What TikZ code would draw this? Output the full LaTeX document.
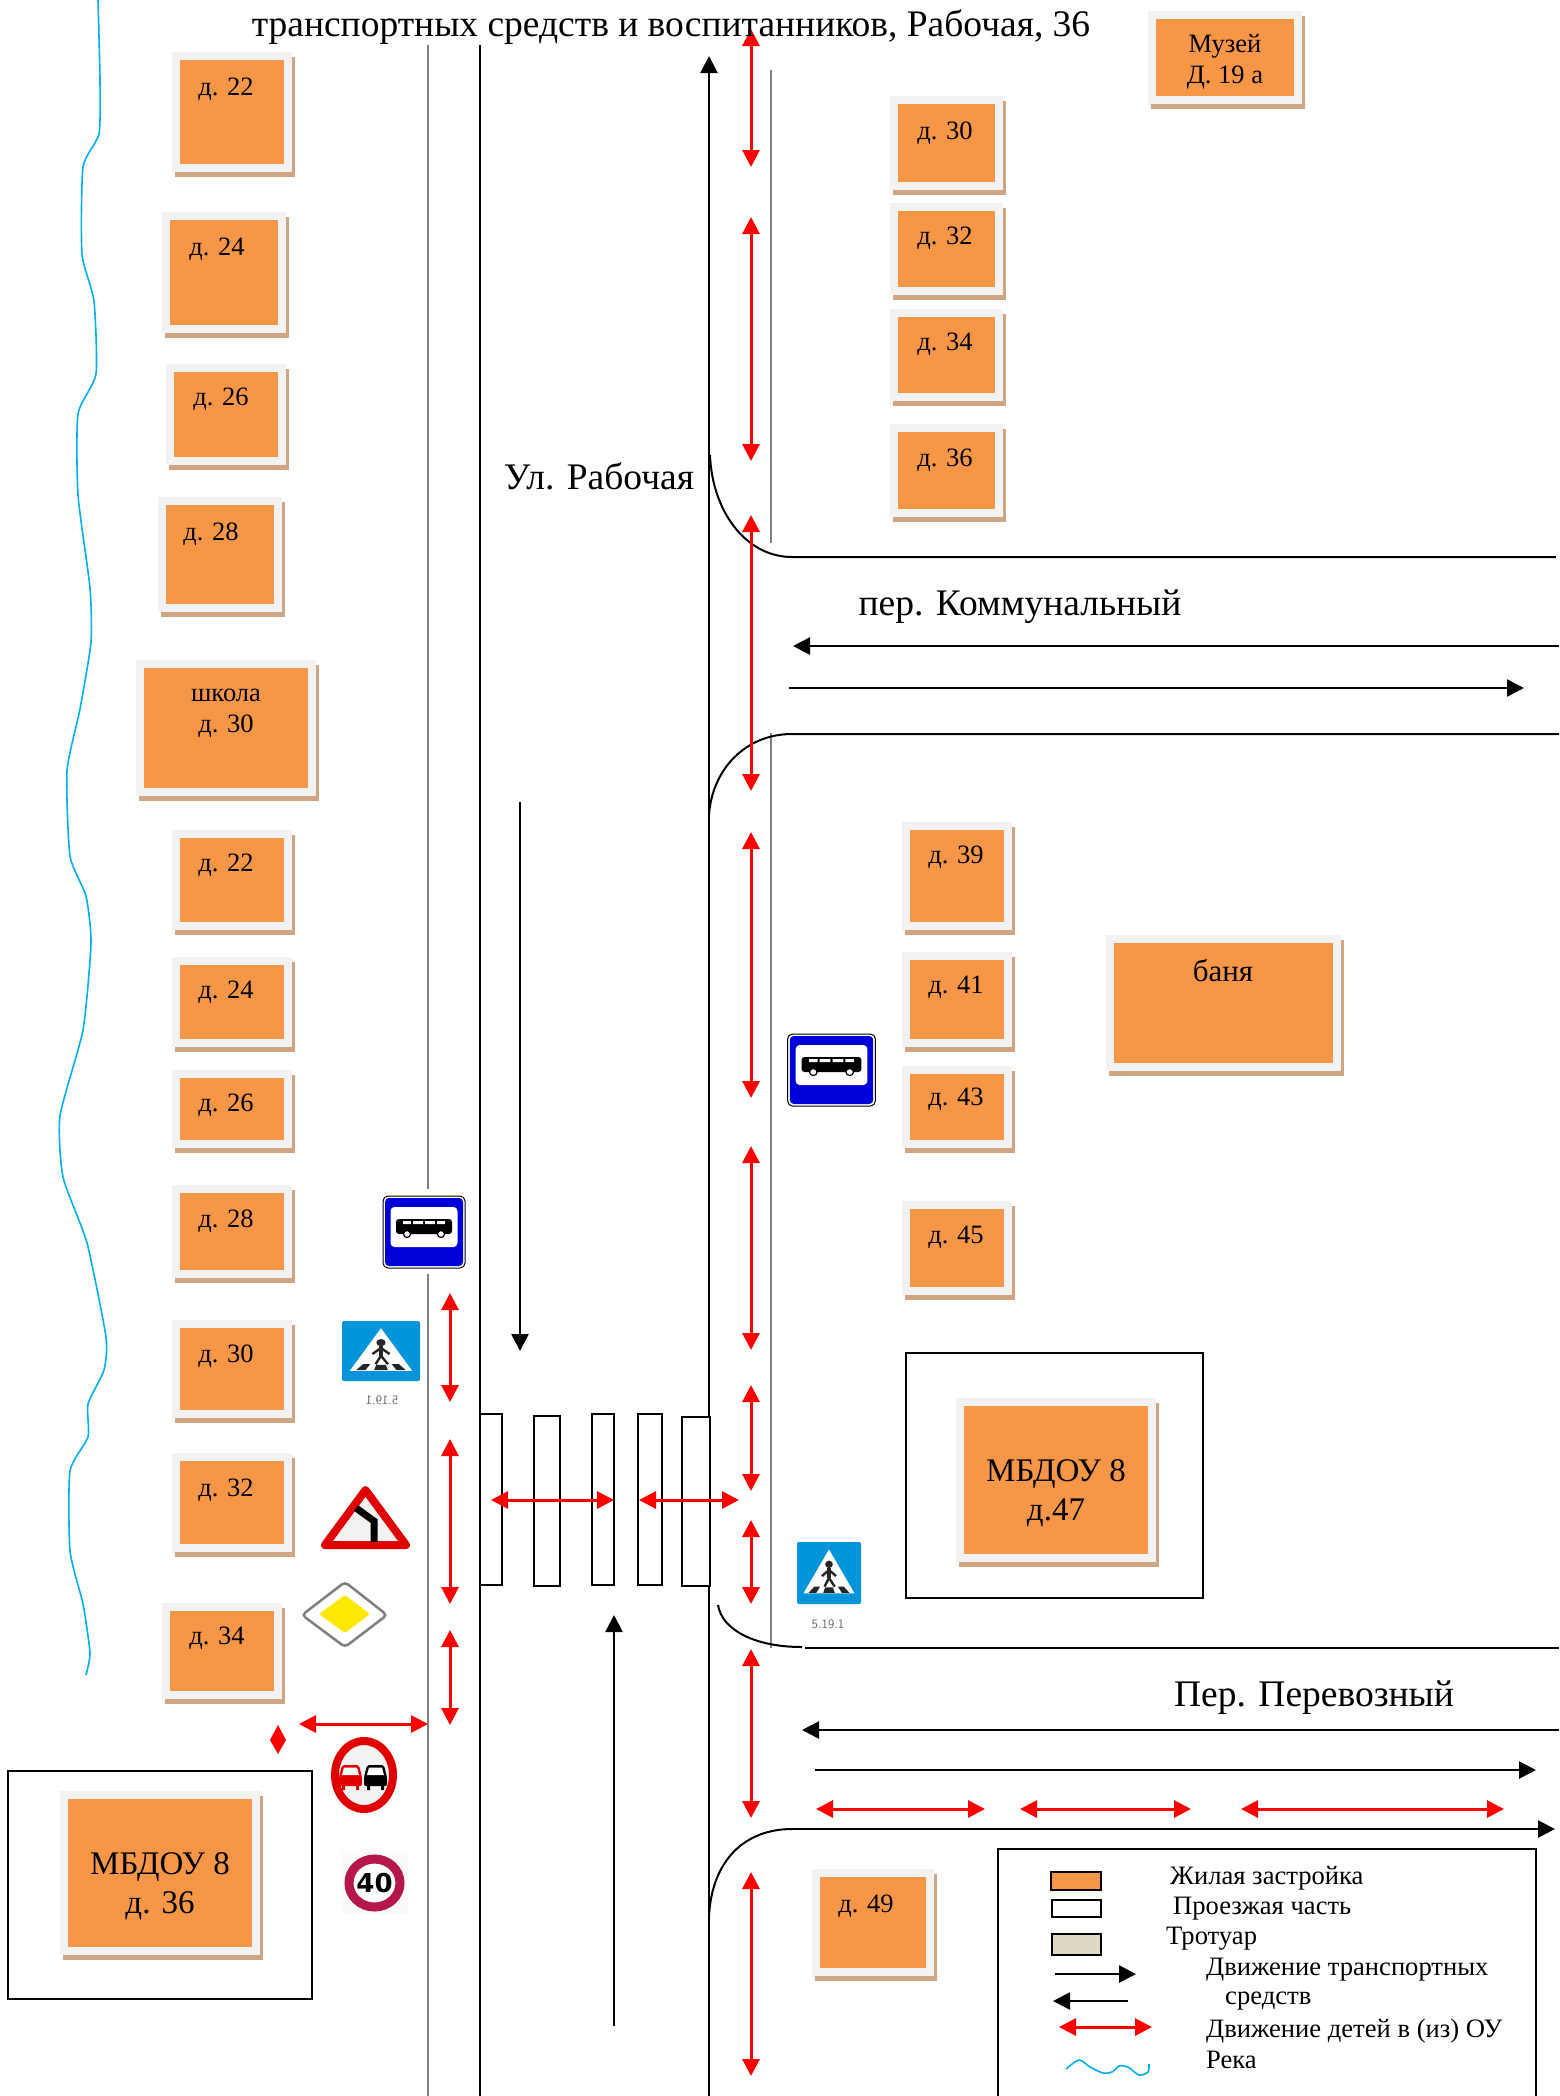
\documentclass[tikz,border=0pt]{standalone}
\usepackage{fontspec}
\setmainfont{Liberation Serif}
\newfontfamily\signfont{DejaVu Sans}
\usetikzlibrary{arrows.meta}
\definecolor{orng}{HTML}{F79646}
\definecolor{frm}{HTML}{F2F2F2}
\definecolor{shd}{HTML}{CFA583}
\definecolor{riv}{HTML}{00B0F0}
\definecolor{sblue}{HTML}{0095DA}
\definecolor{bblue}{HTML}{0000D8}
\definecolor{sred}{HTML}{E00000}
\definecolor{wine}{HTML}{B5174A}
\tikzset{
  x=1pt,y=-1pt,
  lab/.style={inner sep=0pt,align=center,yshift=-3pt,font=\fontsize{26.5}{31}\selectfont},
  labb/.style={inner sep=0pt,align=center,font=\fontsize{31}{36}\selectfont},
  big/.style={inner sep=0pt,align=center,yshift=-3pt,font=\fontsize{33}{39}\selectfont},
  street/.style={inner sep=0pt,align=center,font=\fontsize{37.5}{44}\selectfont},
  leg/.style={inner sep=0pt,anchor=west,font=\fontsize{26.6}{30}\selectfont},
  greyl/.style={draw=black!50,line width=2pt},
  road/.style={draw=black,line width=2.6pt},
  edge/.style={draw=black,line width=2pt},
  veh/.style={draw=black,line width=2.6pt,-{Triangle[length=17pt,width=17pt]}},
  kids/.style={draw=red,line width=3pt,{Triangle[length=17pt,width=17pt]}-{Triangle[length=17pt,width=17pt]}},
  walk/.style={draw=black,line width=2pt,fill=white},
  river/.style={draw=riv,line width=1.6pt}
}
\newcommand{\house}[9]{%
  \fill[shd] (#1-5,#2-3) rectangle (#3+11,#4+13);
  \fill[frm] (#1-8,#2-8) rectangle (#3+8,#4+8);
  \fill[orng] (#1,#2) rectangle (#3,#4);
  \node[#8] (#5) at (#6,#7) {#9};
}
\newcommand{\bussign}[4]{%
  \begin{scope}[shift={(#1,#2)},xscale=#4]
    \node[draw=black,line width=1pt,fill=white,rounded corners=5pt,minimum width=82pt,minimum height=72pt,inner sep=0pt,transform shape] (#3) at (0,0) {};
    \fill[bblue,rounded corners=4pt] (-39,-34) rectangle (39,34);
    \fill[white,rounded corners=4pt] (-33.500,-25) rectangle (33.500,15);
    \fill[black,rounded corners=3pt] (-28,-13) rectangle (28,2);
    \fill[white] (-21,-11) rectangle (-13,-8) (-11,-11) rectangle (-1,-8) (1,-11) rectangle (11,-8) (13,-11) rectangle (21,-8);
    \draw[black,line width=1.2pt,fill=white] (-17,2) circle (3.5) (17,2) circle (3.5);
  \end{scope}
}
\newcommand{\pedsign}[5]{%
  \begin{scope}[shift={(#1,#2)},x=#3pt,y=-#4pt]
    \node[fill=sblue,rounded corners=2pt,minimum width=#3pt,minimum height=#4pt,inner sep=0pt] (#5) at (.5,.5) {};
    \fill[white] (.5,.12) -- (.9,.83) -- (.1,.83) -- cycle;
    \fill[black!85] (.5,.36) circle (.06);
    \draw[black!85,line width=4.500pt] (.5,.42) -- (.5,.58);
    \draw[black!85,line width=2.4pt] (.5,.58) -- (.43,.72) (.5,.58) -- (.59,.72) (.5,.45) -- (.39,.55) (.5,.45) -- (.61,.55);
    \fill[black!85] (.18,.82) -- (.27,.72) -- (.36,.72) -- (.3,.82) -- cycle
      (.41,.82) -- (.44,.73) -- (.56,.73) -- (.59,.82) -- cycle
      (.7,.82) -- (.64,.72) -- (.73,.72) -- (.82,.82) -- cycle;
  \end{scope}
}
\newcommand{\carsign}[2]{%
  \begin{scope}[shift={(#1,1765)}]
    \fill[#2,rounded corners=2pt] (0,12) -- (3,0) -- (20,0) -- (23,12) -- (23,21) -- (0,21) -- cycle;
    \fill[white] (5,2.500) -- (18,2.500) -- (20,10) -- (3,10) -- cycle;
    \fill[#2] (3,20) rectangle (6,25) (17,20) rectangle (20,25);
  \end{scope}
}
\begin{document}
\begin{tikzpicture}
\path[use as bounding box,clip] (0,0) rectangle (1559,2096);
\fill[white] (0,0) rectangle (1559,2096);

% river
\draw[river,line join=round] plot[smooth,tension=.35] coordinates {(98,0) (100,80) (99,134) (83,167) (82,254) (94,301) (96,374) (78,414) (78,495) (90,588) (91,642) (80,709) (67,771) (70,856) (86,896) (91,943) (83,1030) (60,1116) (63,1177) (87,1243) (106,1337) (104,1370) (88,1404) (88,1437) (70,1471) (70,1551) (83,1604) (90,1653) (86,1675)};

% school boxes
\draw[line width=2pt] (8,1771) rectangle (312,1999);
\draw[line width=2pt] (906,1353) rectangle (1203,1598);

% houses, left column
\house{180}{60}{284}{164}{hA}{226}{86}{lab}{д. 22}
\house{170}{220}{278}{325}{hB}{217}{246}{lab}{д. 24}
\house{174}{372}{278}{457}{hC}{221}{396}{lab}{д. 26}
\house{166}{505}{274}{604}{hD}{211}{531}{lab}{д. 28}
\house{144}{668}{308}{788}{hE}{226}{710}{lab}{школа\\д. 30}
\house{180}{838}{284}{922}{hF}{226}{862}{lab}{д. 22}
\house{180}{965}{284}{1039}{hG}{226}{989}{lab}{д. 24}
\house{180}{1078}{284}{1140}{hH}{226}{1102}{lab}{д. 26}
\house{180}{1193}{284}{1270}{hI}{226}{1218}{lab}{д. 28}
\house{180}{1328}{284}{1410}{hJ}{226}{1353}{lab}{д. 30}
\house{180}{1461}{284}{1544}{hK}{226}{1487}{lab}{д. 32}
\house{170}{1611}{274}{1691}{hL}{217}{1635}{lab}{д. 34}
\house{68}{1799}{252}{1947}{hM}{160}{1883}{big}{МБДОУ 8\\д. 36}
% houses, right column
\house{898}{104}{995}{182}{hN}{945}{130}{lab}{д. 30}
\house{898}{211}{995}{287}{hO}{945}{235}{lab}{д. 32}
\house{898}{317}{995}{393}{hP}{945}{341}{lab}{д. 34}
\house{898}{432}{995}{509}{hQ}{945}{457}{lab}{д. 36}
\house{1156}{19}{1294}{96}{hR}{1225}{59}{lab}{Музей\\Д. 19 а}
\house{910}{830}{1004}{922}{hS}{956}{854}{lab}{д. 39}
\house{910}{960}{1004}{1039}{hT}{956}{984}{lab}{д. 41}
\house{910}{1074}{1004}{1140}{hU}{956}{1096}{lab}{д. 43}
\house{910}{1209}{1004}{1287}{hV}{956}{1234}{lab}{д. 45}
\house{1114}{943}{1333}{1063}{hW}{1223}{971}{labb}{баня}
\house{964}{1406}{1148}{1554}{hX}{1056}{1490}{big}{МБДОУ 8\\д.47}
\house{820}{1877}{926}{1968}{hY}{866}{1903}{lab}{д. 49}

% road lines
\draw[greyl] (428,45) -- (428,1189) (428,1274) -- (428,2096);
\draw[greyl] (771,70) -- (771,543) (771,733) -- (771,1648);
\draw[road] (480,45) -- (480,2096);
\draw[road] (709,2096) -- (709,1586);
\draw[road] (709,1417) -- (709,700);
\draw[veh] (709,700) -- (709,56);
% side-street kerbs
\draw[edge] (710,455) .. controls (712,510) and (745,557) .. (792,557) -- (1556,557);
\draw[edge] (709,815) .. controls (712,770) and (745,734) .. (792,734) -- (1559,734);
\draw[edge] (718,1605) .. controls (722,1630) and (755,1647) .. (802,1647);
\draw[edge] (805,1648) -- (1559,1648);
\draw[edge] (709,1916) .. controls (712,1860) and (745,1829) .. (792,1829);
\draw[veh] (792,1829) -- (1555,1829);

% vehicle arrows
\draw[veh] (520,802) -- (520,1351);
\draw[veh] (614,2026) -- (614,1615);
\draw[veh] (1559,646) -- (793,646);
\draw[veh] (789,688) -- (1524,688);
\draw[veh] (1559,1730) -- (802,1730);
\draw[veh] (815,1770) -- (1536,1770);

% crossing
\draw[walk] (480,1414) rectangle (502,1585);
\draw[walk] (534,1416) rectangle (560,1586);
\draw[walk] (592,1414) rectangle (614,1585);
\draw[walk] (638,1414) rectangle (662,1585);
\draw[walk] (682,1417) rectangle (710,1586);

% children routes
\foreach \a/\b in {29/167,217/461,515/791,832/1098,1146/1350,1385/1491,1520/1604,1649/1818,1872/2076}
  \draw[kids] (751,\a) -- (751,\b);
\foreach \a/\b in {1293/1402,1439/1604,1630/1725}
  \draw[kids] (450,\a) -- (450,\b);
\draw[kids] (491,1500) -- (614,1500);
\draw[kids] (639,1500) -- (739,1500);
\draw[kids] (299,1724) -- (428,1724);
\draw[kids] (816,1809) -- (985,1809);
\draw[kids] (1020,1809) -- (1191,1809);
\draw[kids] (1241,1809) -- (1504,1809);
\fill[red] (278,1725) -- (286,1740) -- (278,1754) -- (270,1740) -- cycle;

% street names
\node[street] (title) at (671,27) {транспортных средств и воспитанников, Рабочая, 36};
\node[street] (s1) at (599,476) {Ул. Рабочая};
\node[street] (s2) at (1020,607) {пер. Коммунальный};
\node[street] (s3) at (1314,1698) {Пер. Перевозный};

% signs
\bussign{424}{1232}{busL}{1}
\bussign{831.500}{1070}{busR}{1.07}
\pedsign{342}{1321}{78}{60}{pedL}
\node[inner sep=0pt,text=black!60,font=\sffamily\fontsize{13}{15}\selectfont] (pedLt) at (382,1400) {\scalebox{-1}[1]{5.19.1}};
\pedsign{797}{1542}{64}{62}{pedR}
\node[inner sep=0pt,text=black!60,font=\sffamily\fontsize{13}{15}\selectfont] (pedRt) at (828,1624) {5.19.1};
% bend sign
\draw[draw=sred,line width=8pt,line join=round,fill=frm] (365.500,1490) -- (406,1545) -- (325,1545) -- cycle;
\draw[black,line width=7pt] (356,1508) -- (374,1521) -- (374,1542);
% priority sign
\draw[black!50,line width=2.5pt,fill=white,rounded corners=4pt] (345,1582) -- (387,1615) -- (345,1647) -- (302,1615) -- cycle;
\fill[yellow!90!orange,rounded corners=2pt] (345,1595) -- (370,1614) -- (345,1633) -- (319,1614) -- cycle;
% no overtaking
\draw[sred,line width=8pt,fill=frm] (364,1775) ellipse (29 and 34);
\carsign{339}{sred}
\carsign{364}{black}
% speed limit
\fill[frm!40] (342,1852) rectangle (408,1914);
\draw[draw=wine,line width=9pt,fill=white] (374.500,1883) ellipse (25.500 and 24);
\node[inner sep=0pt,font=\signfont\bfseries\fontsize{26}{30}\selectfont] (speed) at (374.500,1883) {40};

% legend
\draw[line width=1.8pt] (998,2096) -- (998,1849) -- (1536,1849) -- (1536,2096);
\draw[line width=1.6pt,fill=orng] (1051,1872) rectangle (1101,1890);
\draw[line width=1.6pt,fill=white] (1052,1900) rectangle (1101,1917);
\draw[line width=1.6pt,fill={rgb,255:red,221;green,217;blue,195}] (1052,1934) rectangle (1101,1955);
\draw[veh] (1055,1974) -- (1136,1974);
\draw[veh] (1128,2001) -- (1053,2001);
\draw[kids] (1059,2027) -- (1152,2027);
\draw[river] plot[smooth,tension=.5] coordinates {(1066,2069) (1079,2060) (1090,2067) (1103,2073) (1112,2072) (1119,2066) (1128,2067) (1139,2075) (1148,2072) (1149,2064)};
\node[leg] (l1) at (1170,1878) {Жилая застройка};
\node[leg] (l2) at (1173,1909) {Проезжая часть};
\node[leg] (l3) at (1166,1939) {Тротуар};
\node[leg] (l4) at (1206,1970) {Движение транспортных};
\node[leg] (l5) at (1225,2001) {средств};
\node[leg] (l6) at (1206,2031) {Движение детей в (из) ОУ};
\node[leg] (l7) at (1206,2060) {Река};
\end{tikzpicture}
\end{document}
